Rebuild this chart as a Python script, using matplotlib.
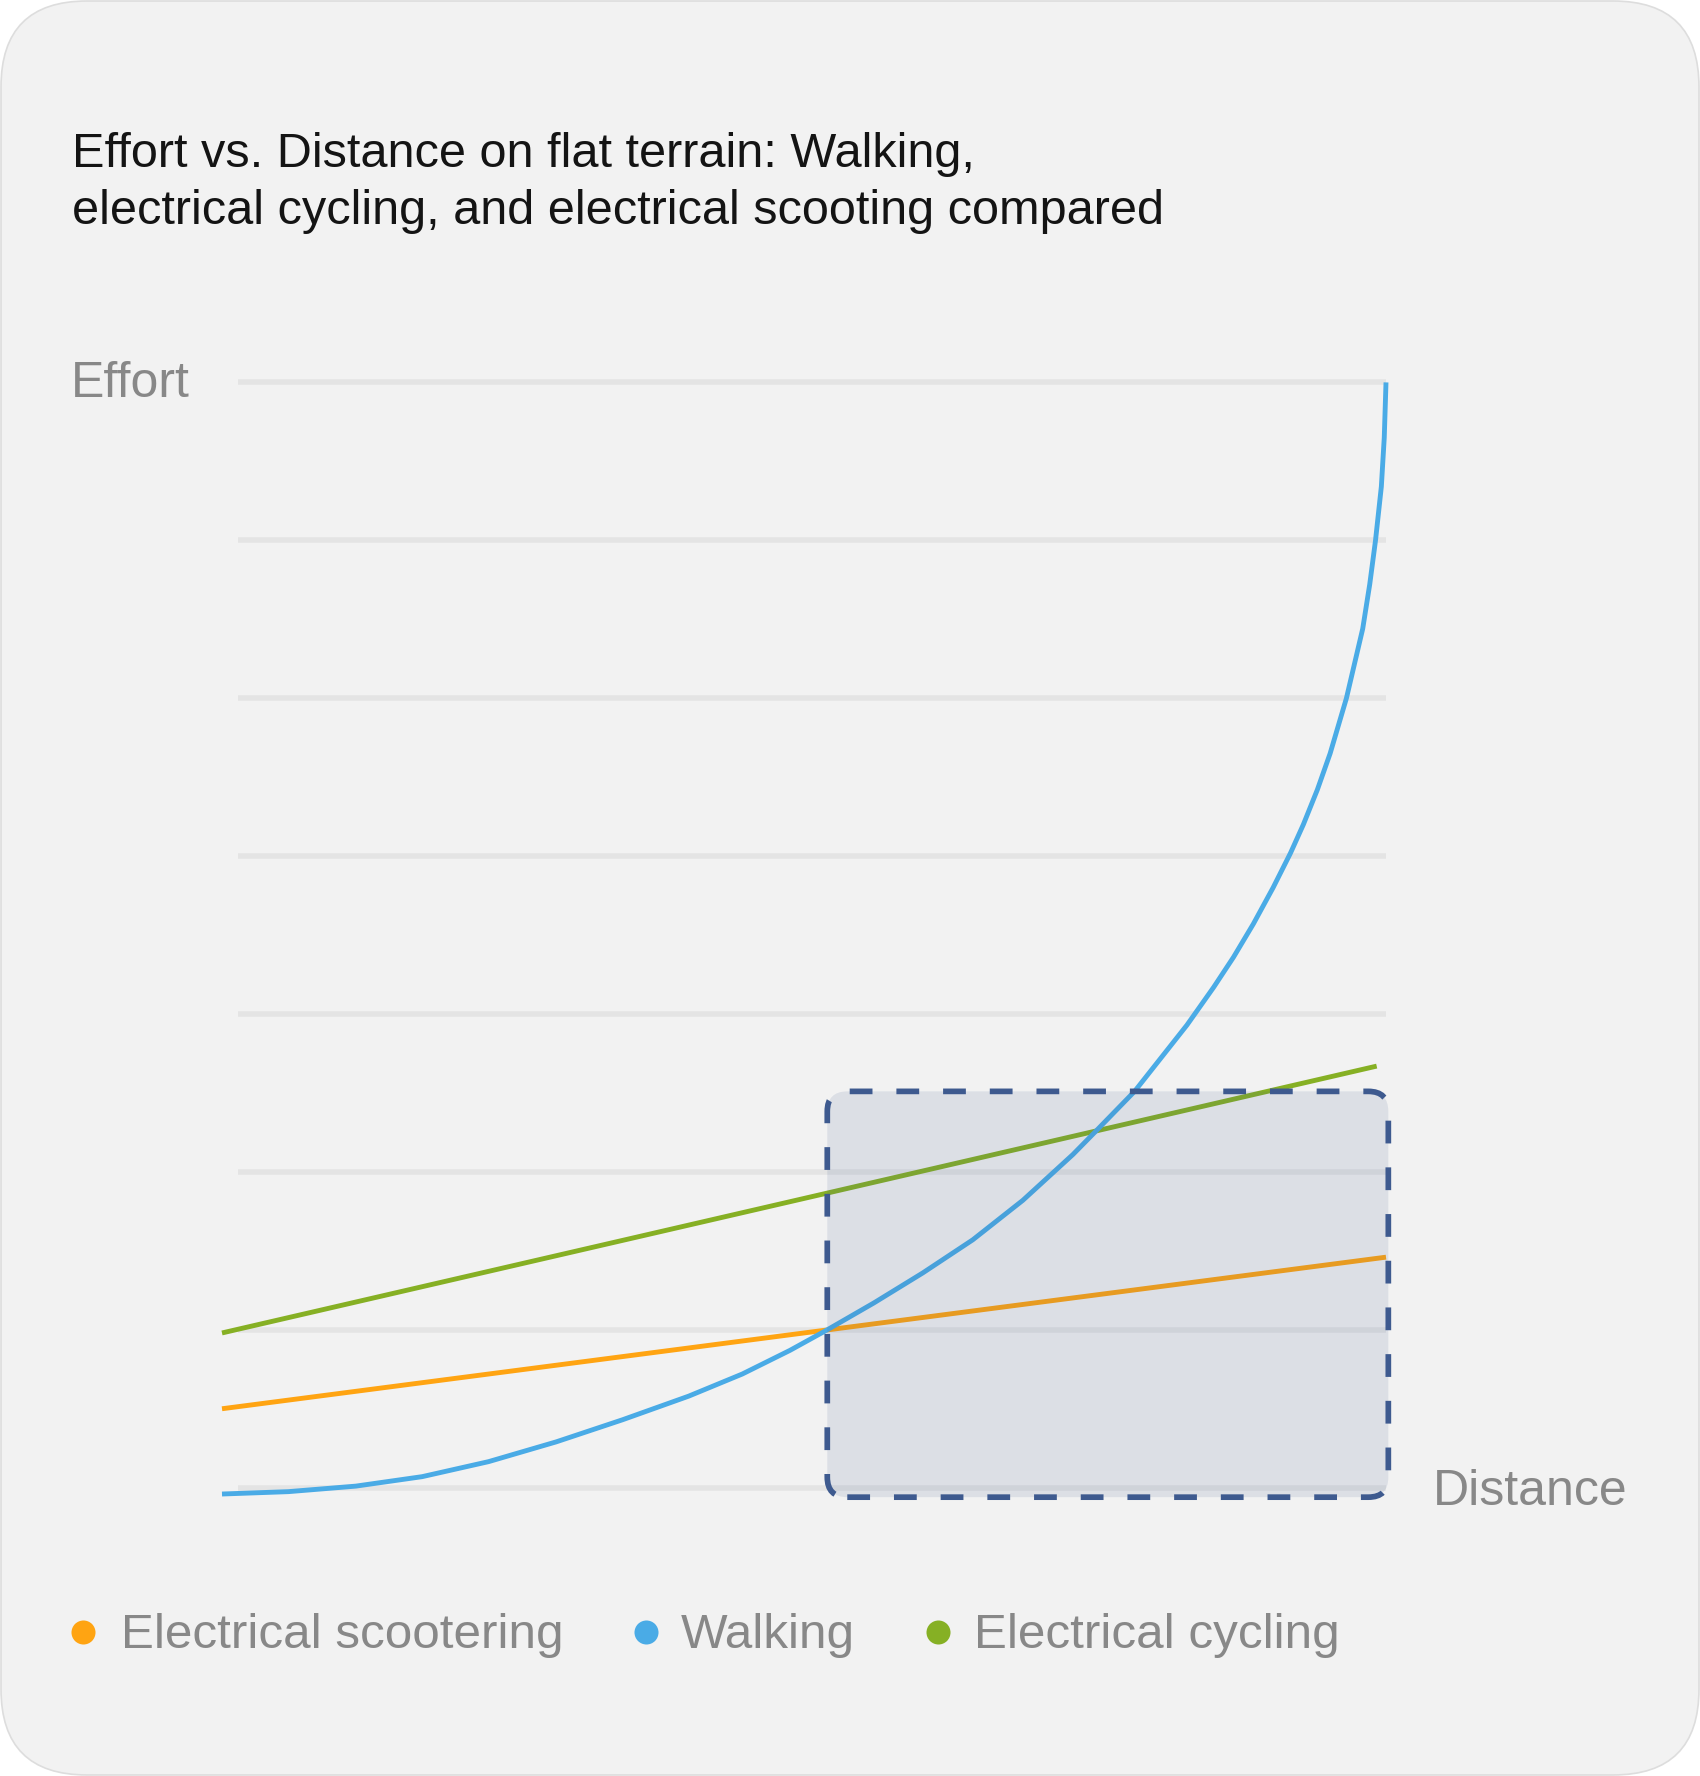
"""Effort vs. distance on flat terrain: walking, e-cycling and e-scooting."""
import matplotlib

matplotlib.use("Agg")
import matplotlib.pyplot as plt
from matplotlib.patches import FancyBboxPatch

# ---- data ----
walking_x = [0.0, 0.57, 1.15, 1.72, 2.29, 2.87, 3.44, 4.01, 4.47, 4.88, 5.20,
             5.60, 6.02, 6.45, 6.88, 7.31, 7.51, 7.84, 8.29, 8.52, 8.69, 8.86,
             9.03, 9.18, 9.29, 9.41, 9.52, 9.66, 9.80, 9.86, 9.91, 9.96, 9.985,
             10.0]
walking_y = [-0.04, -0.025, 0.01, 0.07, 0.165, 0.29, 0.43, 0.58, 0.72, 0.87,
             1.0, 1.17, 1.36, 1.57, 1.82, 2.11, 2.26, 2.51, 2.93, 3.17, 3.36,
             3.57, 3.80, 4.02, 4.20, 4.42, 4.65, 5.00, 5.44, 5.72, 6.00, 6.34,
             6.65, 7.0]
scooter_x = [0.0, 10.0]
scooter_y = [0.50, 1.46]
cycling_x = [0.0, 9.92]
cycling_y = [0.98, 2.67]
grid_levels = [0, 1, 2, 3, 4, 5, 6, 7]
highlight_x = (5.20, 10.02)
highlight_y = (-0.06, 2.51)

series_names = ["Electrical scootering", "Walking", "Electrical cycling"]
series_colors = ["#FFA412", "#4AABE6", "#86B024"]
title_lines = ["Effort vs. Distance on flat terrain: Walking,",
               "electrical cycling, and electrical scooting compared"]

W, H = 1700, 1776
FONT = ["Liberation Sans", "DejaVu Sans"]
plt.rcParams["font.family"] = FONT

fig = plt.figure(figsize=(W / 100, H / 100), dpi=100)
fig.patch.set_facecolor("white")

# background axes in pixel units (y downwards)
bg = fig.add_axes([0, 0, 1, 1])
bg.set_xlim(0, W)
bg.set_ylim(H, 0)
bg.axis("off")

card = FancyBboxPatch((1, 1), W - 2, H - 2,
                      boxstyle="round,pad=0,rounding_size=86",
                      facecolor="#F2F2F2", edgecolor="#DDDDDD", linewidth=1.2)
bg.add_patch(card)

for i, line in enumerate(title_lines):
    bg.text(72, 166.7 + i * 57.7, line, fontsize=35, color="#141414",
            va="baseline", ha="left")

bg.text(71, 396.7, "Effort", fontsize=36, color="#888888",
        va="baseline", ha="left")
bg.text(1433, 1505, "Distance", fontsize=36, color="#888888",
        va="baseline", ha="left")

# legend
dot_x = [83, 646, 938]
text_x = [121, 681, 974]
for name, color, dx, tx in zip(series_names, series_colors, dot_x, text_x):
    bg.plot([dx], [1632], marker="o", markersize=17.3, color=color,
            markeredgewidth=0, linestyle="none")
    bg.text(tx, 1648.3, name, fontsize=35.6, color="#888888",
            va="baseline", ha="left")

# ---- main plot axes ----
left_px, right_px = 222, 1386
top_px, bottom_px = 382.4, 1487.7
ax = fig.add_axes([left_px / W, 1 - bottom_px / H,
                   (right_px - left_px) / W, (bottom_px - top_px) / H])
ax.set_xlim(0, 10)
ax.set_ylim(0, 7)
ax.axis("off")
ax.patch.set_alpha(0)

ax.hlines(grid_levels, 0.14, 10, colors="#E4E4E4", linewidth=4.0,
          zorder=1, clip_on=False)

line_kw = dict(linewidth=3.5, solid_capstyle="butt", solid_joinstyle="round",
               clip_on=False, zorder=2)
ax.plot(scooter_x, scooter_y, color=series_colors[0], **line_kw)
ax.plot(cycling_x, cycling_y, color=series_colors[2], **line_kw)
ax.plot(walking_x, walking_y, color=series_colors[1], **line_kw)

# highlighted region: rounded, translucent fill with dashed border
px_per_x = (right_px - left_px) / 10
px_per_y = (bottom_px - top_px) / 7
aspect = px_per_x / px_per_y
radius = 20 / px_per_x
hx0, hx1 = highlight_x
hy0, hy1 = highlight_y
fill = FancyBboxPatch((hx0, hy0), hx1 - hx0, hy1 - hy0,
                      boxstyle=f"round,pad=0,rounding_size={radius}",
                      mutation_aspect=aspect, facecolor="#3E5A8F", alpha=0.12,
                      edgecolor="none", zorder=3, clip_on=False)
ax.add_patch(fill)
border = FancyBboxPatch((hx0, hy0), hx1 - hx0, hy1 - hy0,
                        boxstyle=f"round,pad=0,rounding_size={radius}",
                        mutation_aspect=aspect, facecolor="none",
                        edgecolor="#3E5A8F", linewidth=4.1,
                        linestyle=(0, (4.0, 4.2)), zorder=4, clip_on=False)
ax.add_patch(border)

fig.savefig("out.png", dpi=100, facecolor=fig.get_facecolor())
plt.close(fig)
